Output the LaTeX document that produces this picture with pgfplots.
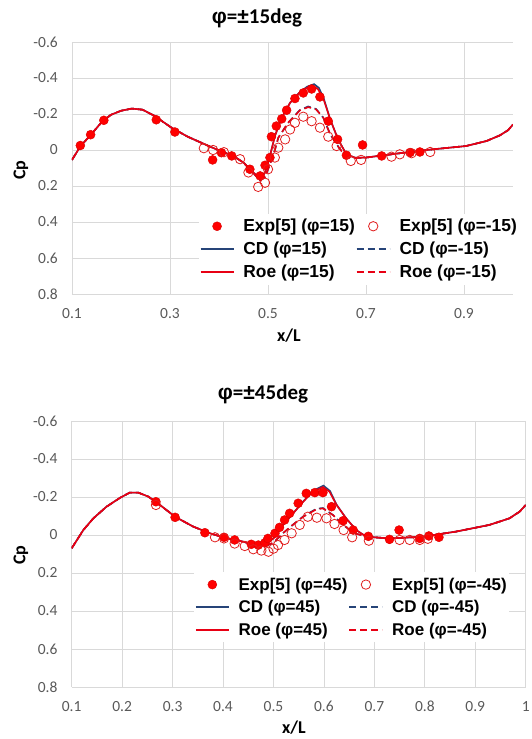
\documentclass[border=0pt]{standalone}
\usepackage{fontspec}
\setmainfont{Carlito}
\newfontfamily\legfont{Liberation Sans}
\usepackage{pgfplots}
\pgfplotsset{compat=1.18}
\definecolor{cdblue}{RGB}{38,68,120}
\definecolor{roered}{RGB}{232,0,20}
\definecolor{expred}{RGB}{255,0,0}
\definecolor{openred}{RGB}{225,30,30}
\definecolor{gridgray}{RGB}{217,217,217}
\definecolor{ticktext}{RGB}{89,89,89}
\pgfplotsset{
 cpaxis/.style={
  scale only axis,
  y dir=reverse,
  ymin=-0.6, ymax=0.8,
  ytick={-0.6,-0.4,-0.2,0,0.2,0.4,0.6,0.8},
  xmin=0.1, xmax=1.0,
  grid=major,
  major grid style={gridgray, line width=0.8pt},
  axis line style={draw=none},
  major tick length=0pt,
  tick label style={font=\fontsize{15.5}{18}\selectfont, text=ticktext},
  /pgf/number format/assume math mode=true,
  yticklabel style={anchor=east, inner sep=0pt, xshift=-14pt},
  xticklabel style={anchor=north, inner sep=0pt, yshift=-14pt},
  legend columns=2,
  legend cell align=left,
  legend style={draw=none, fill=white,
    inner sep=1pt,
    nodes={inner xsep=1pt, inner ysep=4.4pt},
    /tikz/every odd column/.append style={column sep=8pt},
    /tikz/every even column/.append style={column sep=0pt}, anchor=north west},
  legend image code/.code={\draw[mark repeat=2,mark phase=2,##1] plot coordinates {(0pt,0pt)(16.5pt,0pt)(33pt,0pt)};},
 },
 expf/.style={only marks, mark=*, mark size=4.5pt, mark options={fill=expred, draw=expred!85!black, line width=0.4pt}},
 expo/.style={only marks, mark=o, mark size=4.7pt, mark options={draw=openred, line width=0.8pt}},
 cds/.style={draw=cdblue, color=cdblue, line width=1.6pt, mark=none},
 cdd/.style={draw=cdblue, color=cdblue, line width=1.6pt, mark=none, dash pattern=on 7pt off 4pt},
 roes/.style={draw=roered, color=roered, line width=1.6pt, mark=none},
 roed/.style={draw=roered, color=roered, line width=1.6pt, mark=none, dash pattern=on 7pt off 4pt},
}
\newcommand{\phisym}{{\legfont φ}}
\begin{document}
\begin{tikzpicture}
\useasboundingbox (0,0) rectangle (531pt,739pt);
% ---------------- top axis ----------------
\begin{axis}[cpaxis, at={(72pt,445pt)}, anchor=south west, width=441pt, height=252pt,
  xtick={0.1,0.3,0.5,0.7,0.9},
  legend style={at={(0.287,0.319)}, font=\legfont\bfseries\fontsize{17.4}{20}\selectfont}]
\addplot[expf] coordinates {
(0.117,-0.025)(0.138,-0.085)(0.165,-0.165)(0.272,-0.168)(0.310,-0.100)(0.387,0.055)(0.405,0.015)(0.426,0.033)
(0.463,0.107)(0.484,0.144)(0.494,0.085)(0.504,0.042)(0.507,-0.074)(0.517,-0.133)(0.528,-0.173)(0.538,-0.221)
(0.555,-0.286)(0.572,-0.317)(0.589,-0.339)(0.606,-0.295)(0.623,-0.160)(0.642,-0.059)(0.660,0.029)(0.693,-0.028)
(0.732,0.033)(0.790,0.014)(0.810,0.011)};
\addlegendentry{Exp[5] (φ=15)}
\addplot[expo] coordinates {
(0.369,-0.010)(0.388,0.000)(0.410,0.012)(0.443,0.051)(0.460,0.125)(0.480,0.205)(0.494,0.182)(0.500,0.107)
(0.514,0.042)(0.521,-0.013)(0.535,-0.059)(0.545,-0.114)(0.555,-0.151)(0.572,-0.185)(0.589,-0.160)(0.606,-0.124)
(0.623,-0.074)(0.640,-0.022)(0.669,0.061)(0.690,0.055)(0.752,0.037)(0.769,0.024)(0.793,0.018)(0.831,0.011)};
\addlegendentry{Exp[5] (φ=-15)}
\addplot[cds] coordinates {
(0.100,0.055)(0.117,-0.020)(0.138,-0.083)(0.159,-0.150)(0.179,-0.195)(0.200,-0.218)(0.222,-0.230)(0.244,-0.224)
(0.268,-0.190)(0.302,-0.126)(0.336,-0.074)(0.370,-0.033)(0.402,0.005)(0.429,0.033)(0.450,0.070)(0.470,0.125)
(0.484,0.160)(0.494,0.125)(0.504,0.033)(0.514,-0.077)(0.528,-0.179)(0.545,-0.262)(0.565,-0.322)(0.580,-0.352)
(0.594,-0.366)(0.604,-0.345)(0.614,-0.285)(0.627,-0.170)(0.643,-0.059)(0.660,0.024)(0.677,0.042)(0.700,0.042)
(0.734,0.030)(0.769,0.018)(0.837,-0.004)(0.904,-0.022)(0.946,-0.050)(0.973,-0.081)(0.990,-0.110)(1.000,-0.142)};
\addlegendentry{CD (φ=15)}
\addplot[cdd] coordinates {
(0.100,0.055)(0.117,-0.020)(0.138,-0.083)(0.159,-0.150)(0.179,-0.195)(0.200,-0.218)(0.222,-0.230)(0.244,-0.224)
(0.268,-0.190)(0.302,-0.126)(0.336,-0.074)(0.370,-0.033)(0.402,0.005)(0.429,0.033)(0.450,0.070)(0.470,0.128)
(0.484,0.170)(0.494,0.150)(0.504,0.080)(0.514,0.000)(0.521,-0.068)(0.541,-0.151)(0.565,-0.222)(0.582,-0.242)
(0.598,-0.228)(0.613,-0.179)(0.627,-0.087)(0.647,-0.004)(0.660,0.035)(0.677,0.045)(0.700,0.042)
(0.734,0.030)(0.769,0.018)(0.837,-0.004)(0.904,-0.022)(0.946,-0.050)(0.973,-0.081)(0.990,-0.110)(1.000,-0.142)};
\addlegendentry{CD (φ=-15)}
\addplot[roes] coordinates {
(0.100,0.055)(0.117,-0.020)(0.138,-0.083)(0.159,-0.150)(0.179,-0.195)(0.200,-0.218)(0.222,-0.230)(0.244,-0.224)
(0.268,-0.190)(0.302,-0.126)(0.336,-0.074)(0.370,-0.033)(0.402,0.005)(0.429,0.033)(0.450,0.070)(0.470,0.125)
(0.484,0.160)(0.494,0.125)(0.504,0.033)(0.514,-0.077)(0.528,-0.179)(0.545,-0.262)(0.565,-0.320)(0.580,-0.347)
(0.592,-0.356)(0.602,-0.338)(0.613,-0.285)(0.627,-0.170)(0.643,-0.059)(0.660,0.024)(0.677,0.042)(0.700,0.042)
(0.734,0.030)(0.769,0.018)(0.837,-0.004)(0.904,-0.022)(0.946,-0.050)(0.973,-0.081)(0.990,-0.110)(1.000,-0.142)};
\addlegendentry{Roe (φ=15)}
\addplot[roed] coordinates {
(0.100,0.055)(0.117,-0.020)(0.138,-0.083)(0.159,-0.150)(0.179,-0.195)(0.200,-0.218)(0.222,-0.230)(0.244,-0.224)
(0.268,-0.190)(0.302,-0.126)(0.336,-0.074)(0.370,-0.033)(0.402,0.005)(0.429,0.033)(0.450,0.070)(0.470,0.128)
(0.484,0.170)(0.494,0.150)(0.504,0.080)(0.514,0.000)(0.521,-0.068)(0.541,-0.151)(0.565,-0.220)(0.582,-0.238)
(0.598,-0.226)(0.613,-0.179)(0.627,-0.087)(0.647,-0.004)(0.660,0.035)(0.677,0.045)(0.700,0.042)
(0.734,0.030)(0.769,0.018)(0.837,-0.004)(0.904,-0.022)(0.946,-0.050)(0.973,-0.081)(0.990,-0.110)(1.000,-0.142)};
\addlegendentry{Roe (φ=-15)}
\end{axis}
% ---------------- bottom axis ----------------
\begin{axis}[cpaxis, at={(71.7pt,52pt)}, anchor=south west, width=454pt, height=266pt,
  xtick={0.1,0.2,0.3,0.4,0.5,0.6,0.7,0.8,0.9,1.0},
  legend style={at={(0.269,0.432)}, font=\legfont\bfseries\fontsize{17}{20}\selectfont}]
\addplot[expf] coordinates {
(0.267,-0.175)(0.305,-0.093)(0.364,-0.012)(0.402,0.012)(0.423,0.026)(0.456,0.049)(0.470,0.053)(0.483,0.041)
(0.489,0.018)(0.503,-0.009)(0.512,-0.040)(0.522,-0.079)(0.532,-0.114)(0.549,-0.167)(0.565,-0.219)(0.582,-0.223)
(0.598,-0.223)(0.615,-0.149)(0.638,-0.075)(0.658,-0.026)(0.688,0.007)(0.730,0.023)(0.749,-0.026)(0.790,0.018)
(0.808,0.005)(0.828,0.012)};
\addlegendentry{Exp[5] (φ=45)}
\addplot[expo] coordinates {
(0.267,-0.158)(0.384,0.012)(0.402,0.018)(0.423,0.045)(0.443,0.058)(0.460,0.075)(0.476,0.082)(0.490,0.088)
(0.500,0.072)(0.509,0.053)(0.522,0.026)(0.536,-0.009)(0.552,-0.053)(0.568,-0.096)(0.586,-0.091)(0.605,-0.088)
(0.621,-0.058)(0.639,-0.026)(0.656,0.012)(0.689,0.030)(0.750,0.026)(0.770,0.026)(0.790,0.026)(0.806,0.020)};
\addlegendentry{Exp[5] (φ=-45)}
\addplot[cds] coordinates {
(0.100,0.070)(0.123,-0.026)(0.143,-0.088)(0.169,-0.149)(0.196,-0.196)(0.215,-0.223)(0.232,-0.223)(0.252,-0.202)
(0.275,-0.158)(0.305,-0.096)(0.341,-0.044)(0.374,-0.009)(0.407,0.017)(0.427,0.026)(0.460,0.049)(0.480,0.053)
(0.500,0.018)(0.519,-0.053)(0.539,-0.114)(0.559,-0.177)(0.578,-0.232)(0.599,-0.260)(0.612,-0.232)(0.625,-0.160)
(0.644,-0.088)(0.664,-0.026)(0.684,0.009)(0.730,0.018)(0.796,0.009)(0.862,-0.018)(0.928,-0.053)(0.968,-0.088)
(0.988,-0.123)(1.000,-0.158)};
\addlegendentry{CD (φ=45)}
\addplot[cdd] coordinates {
(0.100,0.070)(0.123,-0.026)(0.143,-0.088)(0.169,-0.149)(0.196,-0.196)(0.215,-0.223)(0.232,-0.223)(0.252,-0.202)
(0.275,-0.158)(0.305,-0.096)(0.341,-0.044)(0.374,-0.009)(0.407,0.017)(0.427,0.026)(0.460,0.050)(0.480,0.062)
(0.500,0.042)(0.519,-0.010)(0.539,-0.055)(0.559,-0.098)(0.585,-0.138)(0.598,-0.142)(0.618,-0.105)(0.638,-0.053)
(0.660,-0.010)(0.684,0.009)(0.730,0.018)(0.796,0.009)(0.862,-0.018)(0.928,-0.053)(0.968,-0.088)
(0.988,-0.123)(1.000,-0.158)};
\addlegendentry{CD (φ=-45)}
\addplot[roes] coordinates {
(0.100,0.070)(0.123,-0.026)(0.143,-0.088)(0.169,-0.149)(0.196,-0.196)(0.215,-0.223)(0.232,-0.223)(0.252,-0.202)
(0.275,-0.158)(0.305,-0.096)(0.341,-0.044)(0.374,-0.009)(0.407,0.017)(0.427,0.026)(0.460,0.049)(0.480,0.053)
(0.500,0.018)(0.519,-0.053)(0.539,-0.114)(0.559,-0.175)(0.578,-0.228)(0.598,-0.252)(0.611,-0.228)(0.625,-0.158)
(0.644,-0.088)(0.664,-0.026)(0.684,0.009)(0.730,0.018)(0.796,0.009)(0.862,-0.018)(0.928,-0.053)(0.968,-0.088)
(0.988,-0.123)(1.000,-0.158)};
\addlegendentry{Roe (φ=45)}
\addplot[roed] coordinates {
(0.100,0.070)(0.123,-0.026)(0.143,-0.088)(0.169,-0.149)(0.196,-0.196)(0.215,-0.223)(0.232,-0.223)(0.252,-0.202)
(0.275,-0.158)(0.305,-0.096)(0.341,-0.044)(0.374,-0.009)(0.407,0.017)(0.427,0.026)(0.460,0.050)(0.480,0.060)
(0.500,0.040)(0.519,-0.010)(0.539,-0.055)(0.559,-0.096)(0.585,-0.135)(0.598,-0.140)(0.618,-0.105)(0.638,-0.053)
(0.660,-0.010)(0.684,0.009)(0.730,0.018)(0.796,0.009)(0.862,-0.018)(0.928,-0.053)(0.968,-0.088)
(0.988,-0.123)(1.000,-0.158)};
\addlegendentry{Roe (φ=-45)}
\end{axis}
% ---------------- titles and labels ----------------
\node[font=\bfseries\fontsize{21}{24}\selectfont] at (257pt,721pt) {\phisym={\legfont±}15deg};
\node[font=\bfseries\fontsize{21}{24}\selectfont] at (263pt,345pt) {\phisym={\legfont±}45deg};
\node[font=\bfseries\fontsize{18}{21}\selectfont] at (289pt,403pt) {x/L};
\node[font=\bfseries\fontsize{18}{21}\selectfont] at (294pt,11pt) {x/L};
\node[font=\bfseries\fontsize{18}{21}\selectfont, rotate=90] at (21pt,569pt) {Cp};
\node[font=\bfseries\fontsize{18}{21}\selectfont, rotate=90] at (21pt,184pt) {Cp};
\end{tikzpicture}
\end{document}
